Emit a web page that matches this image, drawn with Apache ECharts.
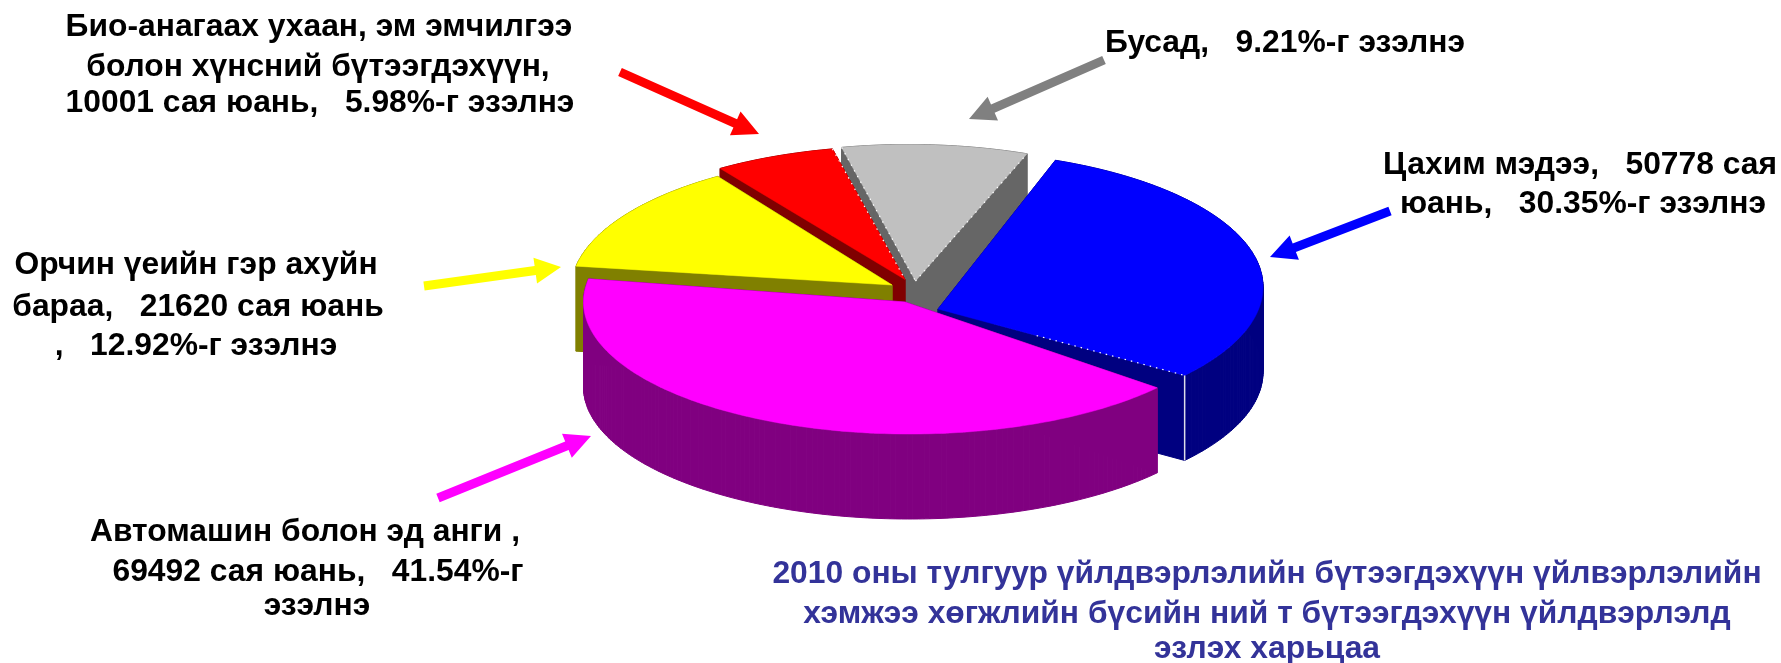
<!DOCTYPE html>
<html>
<head>
<meta charset="utf-8">
<title>2010</title>
<style>
html,body{margin:0;padding:0;background:#fff;}
#main{width:1781px;height:663px;}
</style>
<script src="https://cdn.jsdelivr.net/npm/echarts@6/dist/echarts.min.js"></script>
</head>
<body>
<div id="main"></div>
<script>
// clockwise from the top right: цахим, автомашин, гэр ахуй, био, бусад
var categories = ['Цахим мэдээ', 'Автомашин болон эд анги', 'Орчин үеийн гэр ахуйн бараа', 'Био-анагаах ухаан', 'Бусад'];
var values = [50778, 69492, 21620, 10001, 15409];
var topColors = ['#0000ff', '#ff00ff', '#ffff00', '#ff0000', '#c0c0c0'];
var wallColors = ['#000080', '#800080', '#808000', '#800000', '#666666'];

// look of the tilted pie, in page pixels. every slice is exploded a bit differently
var START_ANGLE = 68.7;
var RADIUS_X = 326;
var DEPTH = 85;
var radiiY = [136, 132, 136, 136, 136];
var rimCenters = [[937, 287], [909.5, 302], [897, 290], [899.5, 282], [908.6, 280.5]];
var apexes = [[938, 309], [905, 302], [892, 285], [905, 279.5], [915.5, 281]];
// back to front
var drawOrder = [4, 3, 2, 0, 1];

var total = 0;
for (var i = 0; i < values.length; i++) {
  total += values[i];
}
var startAngles = [];
var acc = START_ANGLE;
for (var i = 0; i < values.length; i++) {
  startAngles.push(acc);
  acc -= values[i] / total * 360;
}

function sliceOutline(idx) {
  var c = rimCenters[idx];
  var from = startAngles[idx];
  var span = values[idx] / total * 360;
  var steps = Math.ceil(span);
  var pts = [apexes[idx]];
  for (var s = 0; s <= steps; s++) {
    var t = (from - span * s / steps) * Math.PI / 180;
    pts.push([c[0] + RADIUS_X * Math.cos(t), c[1] - radiiY[idx] * Math.sin(t)]);
  }
  return pts;
}

function renderSlice(params, api) {
  var idx = api.value(1);
  var pts = sliceOutline(idx);
  var children = [];
  var wallStyle = {fill: wallColors[idx], stroke: wallColors[idx], lineWidth: 1};
  for (var k = 0; k < pts.length; k++) {
    var a = pts[k];
    var b = pts[(k + 1) % pts.length];
    children.push({
      type: 'polygon',
      shape: {points: [a, b, [b[0], b[1] + DEPTH], [a[0], a[1] + DEPTH]]},
      style: wallStyle
    });
  }
  children.push({
    type: 'polygon',
    shape: {points: pts},
    style: {fill: topColors[idx], stroke: topColors[idx], lineWidth: 0.5}
  });
  // the little white dots the old chart leaves along some cut edges
  var last = pts[pts.length - 1];
  var dotted = {fill: 'none', stroke: '#fff', lineWidth: 1.2, lineDash: [1.5, 5]};
  if (idx === 4) {
    children.push({type: 'line', shape: {x1: pts[1][0], y1: pts[1][1], x2: pts[0][0], y2: pts[0][1]}, style: dotted});
    children.push({type: 'line', shape: {x1: pts[0][0], y1: pts[0][1], x2: last[0], y2: last[1]}, style: dotted});
  } else if (idx === 3) {
    children.push({type: 'line', shape: {x1: last[0], y1: last[1], x2: pts[0][0], y2: pts[0][1]}, style: dotted});
  } else if (idx === 0) {
    var mx = pts[0][0] + (last[0] - pts[0][0]) * 0.4;
    var my = pts[0][1] + (last[1] - pts[0][1]) * 0.4;
    children.push({type: 'line', shape: {x1: mx, y1: my, x2: last[0], y2: last[1]}, style: dotted});
    children.push({
      type: 'line',
      shape: {x1: last[0], y1: last[1], x2: last[0], y2: last[1] + DEPTH},
      style: {stroke: '#dddde8', lineWidth: 1.5}
    });
  }
  return {type: 'group', children: children};
}

// pointers from the captions to the slices
function arrow(x1, y1, x2, y2, color) {
  var len = Math.sqrt((x2 - x1) * (x2 - x1) + (y2 - y1) * (y2 - y1));
  var ux = (x2 - x1) / len, uy = (y2 - y1) / len;
  var nx = -uy, ny = ux;
  var sw = 4.5, hw = 13, hl = 26;
  var bx = x2 - ux * hl, by = y2 - uy * hl;
  return {
    type: 'polygon',
    shape: {points: [
      [x1 + nx * sw, y1 + ny * sw], [bx + nx * sw, by + ny * sw], [bx + nx * hw, by + ny * hw],
      [x2, y2],
      [bx - nx * hw, by - ny * hw], [bx - nx * sw, by - ny * sw], [x1 - nx * sw, y1 - ny * sw]
    ]},
    style: {fill: color}
  };
}

function caption(str, x, y, color) {
  return {
    type: 'text',
    x: x,
    y: y,
    style: {
      text: str,
      fill: color || '#000',
      font: 'bold 31.8px "Liberation Sans", Arial, sans-serif',
      textAlign: 'center',
      textVerticalAlign: 'middle'
    }
  };
}

var chart = echarts.init(document.getElementById('main'));
chart.setOption({
  animation: false,
  backgroundColor: '#fff',
  graphic: {
    elements: [
      arrow(620, 72, 759, 134, '#ff0000'),
      arrow(1104, 60, 969, 119, '#808080'),
      arrow(1390, 211, 1270, 257, '#0000ff'),
      arrow(424, 286, 561, 267, '#ffff00'),
      arrow(438, 498, 591, 436, '#ff00ff'),

      caption('Био-анагаах ухаан, эм эмчилгээ', 319, 27),
      caption('болон хүнсний бүтээгдэхүүн,', 318, 67),
      caption('10001 сая юань,   5.98%-г эзэлнэ', 320, 103),
      caption('Бусад,   9.21%-г эзэлнэ', 1285, 43),
      caption('Цахим мэдээ,   50778 сая', 1580, 165),
      caption('юань,   30.35%-г эзэлнэ', 1583, 204),
      caption('Орчин үеийн гэр ахуйн', 196, 265),
      caption('бараа,   21620 сая юань', 198, 307),
      caption(',   12.92%-г эзэлнэ', 196, 346),
      caption('Автомашин болон эд анги ,', 305, 532),
      caption('69492 сая юань,   41.54%-г', 318, 572),
      caption('эзэлнэ', 317, 606),
      caption('2010 оны тулгуур үйлдвэрлэлийн бүтээгдэхүүн үйлвэрлэлийн', 1267, 574, '#333399'),
      caption('хэмжээ хөгжлийн бүсийн ний т бүтээгдэхүүн үйлдвэрлэлд', 1267, 614, '#333399'),
      caption('эзлэх харьцаа', 1267, 649, '#333399')
    ]
  },
  series: [{
    type: 'custom',
    coordinateSystem: 'none',
    renderItem: renderSlice,
    silent: true,
    z: 1,
    data: drawOrder.map(function (idx) {
      return {name: categories[idx], value: [values[idx], idx]};
    })
  }]
});
</script>
</body>
</html>
